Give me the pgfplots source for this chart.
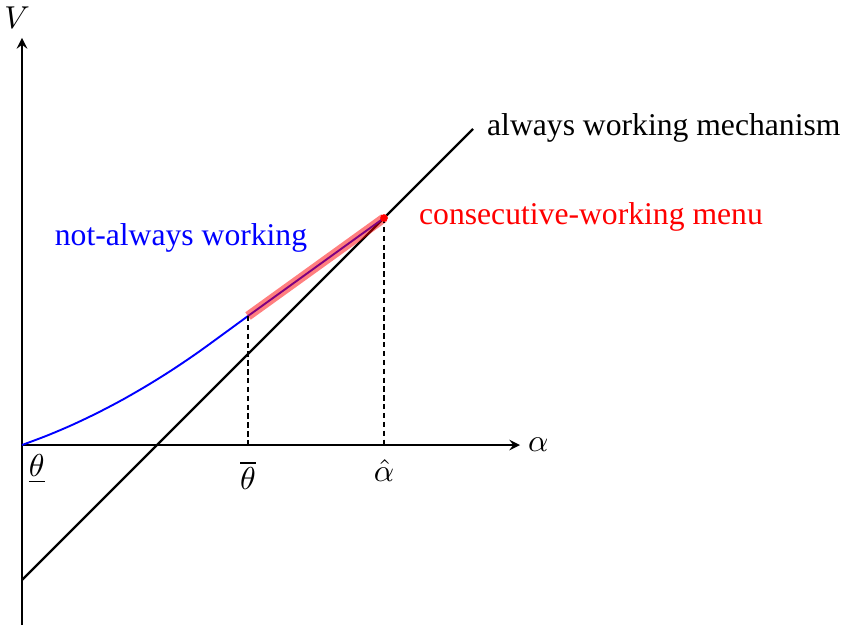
\documentclass[border=0pt]{standalone}
\usepackage{pgfplots}
\pgfplotsset{compat=1.18}
\usepackage{fontspec}
\setmainfont{Liberation Serif}

\begin{document}
\begin{tikzpicture}
\begin{axis}[
  x=31.6pt, y=31.6pt,
  axis lines=middle,
  xmin=0, xmax=4.98,
  ymin=-1.80, ymax=4.07,
  xtick=\empty, ytick=\empty,
  clip=false,
  axis line style={line width=0.5pt},
]
% always working mechanism
\addplot[black, line width=0.75pt] coordinates {(0,-1.35) (4.51,3.16)};
% not-always working curve
\addplot[blue, line width=0.6pt, smooth] coordinates {
  (0,0) (0.25,0.094) (0.5,0.2) (0.75,0.319) (1.0,0.45) (1.25,0.594)
  (1.5,0.75) (1.75,0.919) (2.0,1.10) (2.26,1.29)};
\addplot[blue, line width=0.6pt] coordinates {(2.26,1.29) (3.62,2.27)};
% consecutive-working menu
\addplot[red, line width=2.9pt, opacity=0.5] coordinates {(2.26,1.29) (3.62,2.27)};
\addplot[red, only marks, mark=*, mark size=1pt] coordinates {(3.62,2.27)};
% guides
\addplot[black, line width=0.4pt, dash pattern=on 1.7pt off 1.1pt] coordinates {(2.26,1.29) (2.26,0)};
\addplot[black, line width=0.4pt, dash pattern=on 1.7pt off 1.1pt] coordinates {(3.62,2.27) (3.62,0)};
% labels
\node at (axis cs:-0.05,4.27) {$V$};
\node[anchor=west] at (axis cs:4.95,0) {$\alpha$};
\node[anchor=north west, inner sep=2pt] at (axis cs:0,-0.03) {$\underline{\theta}$};
\node[anchor=north] at (axis cs:2.26,-0.05) {$\overline{\theta}$};
\node[anchor=north] at (axis cs:3.62,-0.03) {$\hat{\alpha}$};
\node[blue] at (axis cs:1.59,2.07) {not-always working};
\node[red, anchor=west] at (axis cs:3.86,2.28) {consecutive-working menu};
\node[black, anchor=west] at (axis cs:4.54,3.17) {always working mechanism};
\coordinate (bbl) at (axis cs:-0.22,-1.84);
\coordinate (bbr) at (axis cs:8.24,4.45);
\end{axis}
\pgfresetboundingbox
\path[use as bounding box] (bbl) rectangle (bbr);
\end{tikzpicture}
\end{document}
